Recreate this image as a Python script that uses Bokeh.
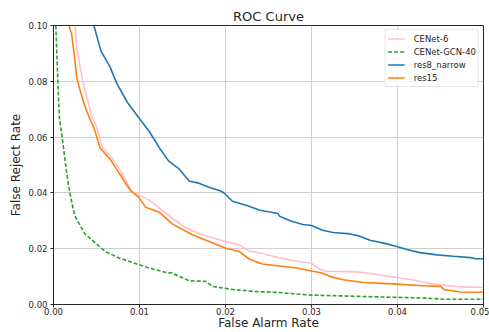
from bokeh.plotting import figure
from bokeh.models import Range1d, FixedTicker, NumeralTickFormatter, Legend, LegendItem
from bokeh.embed import file_html
from bokeh.resources import INLINE

# ---- data (FAR on x, FRR on y) ----
cenet6_x = [0.0025, 0.0027, 0.0031, 0.0035, 0.0039, 0.0045, 0.0049, 0.0057, 0.0068, 0.0078,
            0.0091, 0.0111, 0.0123, 0.0138, 0.0154, 0.0173, 0.0201, 0.0216, 0.0228, 0.0243,
            0.0263, 0.0283, 0.0300, 0.0309, 0.0317, 0.0353, 0.0368, 0.0399, 0.0418, 0.0442,
            0.0473, 0.0500]
cenet6_y = [0.100, 0.0922, 0.085, 0.079, 0.0742, 0.067, 0.0646, 0.0562, 0.0526, 0.0478,
            0.0406, 0.0375, 0.0345, 0.0310, 0.0274, 0.0250, 0.0225, 0.0213, 0.0192, 0.0183,
            0.0167, 0.0155, 0.0148, 0.0127, 0.0119, 0.0117, 0.0111, 0.0097, 0.0088, 0.0073,
            0.0063, 0.0061]

gcn40_x = [0.00027, 0.00039, 0.0005, 0.0007, 0.00097, 0.0014, 0.0018, 0.0023, 0.0026, 0.0037,
           0.0049, 0.0060, 0.0076, 0.0099, 0.0111, 0.0131, 0.0138, 0.0146, 0.0158, 0.0177,
           0.0185, 0.0208, 0.0232, 0.0263, 0.0297, 0.0333, 0.0380, 0.0434, 0.0453, 0.0500]
gcn40_y = [0.100, 0.0898, 0.0802, 0.0664, 0.061, 0.0502, 0.0418, 0.034, 0.031, 0.0251,
           0.022, 0.019, 0.0167, 0.0143, 0.0131, 0.0115, 0.0113, 0.0101, 0.0085, 0.0083,
           0.0065, 0.0054, 0.0047, 0.0043, 0.0034, 0.0031, 0.0027, 0.0023, 0.0019, 0.0019]

res8_x = [0.0047, 0.0055, 0.0066, 0.0074, 0.0086, 0.0099, 0.0111, 0.0123, 0.0134, 0.0146,
          0.0158, 0.0169, 0.0181, 0.0195, 0.0199, 0.0208, 0.0224, 0.0240, 0.0261, 0.0263,
          0.0275, 0.0290, 0.0300, 0.0313, 0.0325, 0.0345, 0.0356, 0.0368, 0.0384, 0.0399,
          0.0411, 0.0426, 0.0446, 0.0465, 0.0485, 0.0491, 0.0500]
res8_y = [0.100, 0.091, 0.085, 0.079, 0.0724, 0.0670, 0.0622, 0.0562, 0.0514, 0.0486,
          0.0442, 0.0435, 0.0420, 0.0406, 0.0398, 0.0370, 0.0356, 0.0338, 0.0326, 0.0316,
          0.0300, 0.0287, 0.0283, 0.0266, 0.0258, 0.0253, 0.0245, 0.0230, 0.0220, 0.0208,
          0.0197, 0.0186, 0.0178, 0.0173, 0.0168, 0.0164, 0.0164]

res15_x = [0.0018, 0.0021, 0.0024, 0.0027, 0.0031, 0.0037, 0.0043, 0.0047, 0.0054, 0.0066,
           0.0076, 0.0090, 0.0099, 0.0107, 0.0123, 0.0138, 0.0162, 0.0181, 0.0201, 0.0216,
           0.0228, 0.0243, 0.0263, 0.0283, 0.0300, 0.0312, 0.0322, 0.0337, 0.0360, 0.0395,
           0.0430, 0.0450, 0.0454, 0.0473, 0.0500]
res15_y = [0.100, 0.097, 0.0898, 0.0814, 0.0766, 0.0706, 0.0660, 0.0634, 0.0562, 0.0520,
           0.0472, 0.0406, 0.0385, 0.0349, 0.0331, 0.0289, 0.0249, 0.0226, 0.0201, 0.0190,
           0.0162, 0.0145, 0.0138, 0.0131, 0.0120, 0.0113, 0.0100, 0.0089, 0.0079, 0.0074,
           0.0067, 0.0065, 0.0054, 0.0045, 0.0044]

x_ticks = [0.0, 0.01, 0.02, 0.03, 0.04, 0.05]
y_ticks = [0.0, 0.02, 0.04, 0.06, 0.08, 0.10]

FONT = "DejaVu Sans"

p = figure(width=489, height=332, output_backend="svg", toolbar_location=None,
           x_range=Range1d(0, 0.05), y_range=Range1d(0, 0.10),
           min_border_left=53, min_border_right=6, min_border_top=25, min_border_bottom=22,
           title="ROC Curve")
p.title.align = "center"
p.title.text_font = FONT
p.title.text_font_size = "13px"
p.title.text_font_style = "normal"
p.title.text_color = "#262626"
p.title.standoff = 4
p.title.offset = 0

p.outline_line_color = "#262626"
p.outline_line_width = 1
p.background_fill_color = "white"
p.border_fill_color = "white"

for ax in (p.xaxis[0], p.yaxis[0]):
    ax.major_label_text_font = FONT
    ax.major_label_text_font_size = "8.5px"
    ax.major_label_text_color = "#262626"
    ax.axis_label_text_font = FONT
    ax.axis_label_text_font_size = "12px"
    ax.axis_label_text_font_style = "normal"
    ax.axis_label_text_color = "#262626"
    ax.axis_line_color = "#262626"
    ax.major_tick_line_color = "#262626"
    ax.major_tick_out = 3
    ax.major_tick_in = 0
    ax.minor_tick_line_color = None
    ax.formatter = NumeralTickFormatter(format="0.00")

p.xaxis[0].major_label_standoff = 0
p.xaxis[0].axis_label_standoff = -2
p.yaxis[0].major_label_standoff = 3
p.yaxis[0].axis_label_standoff = 3

p.xaxis[0].ticker = FixedTicker(ticks=x_ticks)
p.yaxis[0].ticker = FixedTicker(ticks=y_ticks)
p.xaxis.axis_label = "False Alarm Rate"
p.yaxis.axis_label = "False Reject Rate"

p.xgrid.ticker = FixedTicker(ticks=x_ticks)
p.ygrid.ticker = FixedTicker(ticks=y_ticks)
p.grid.grid_line_color = "#cfcfcf"
p.grid.grid_line_width = 1

r1 = p.line(cenet6_x, cenet6_y, line_color="pink", line_width=1.6)
r2 = p.line(gcn40_x, gcn40_y, line_color="#2ca02c", line_width=1.6, line_dash="4 2")
r3 = p.line(res8_x, res8_y, line_color="#1f77b4", line_width=1.6)
r4 = p.line(res15_x, res15_y, line_color="#ff7f0e", line_width=1.6)

legend = Legend(items=[
    LegendItem(label="CENet-6", renderers=[r1]),
    LegendItem(label="CENet-GCN-40", renderers=[r2]),
    LegendItem(label="res8_narrow", renderers=[r3]),
    LegendItem(label="res15", renderers=[r4]),
], location="top_right")
legend.label_text_font = FONT
legend.label_text_font_size = "8.5px"
legend.label_text_color = "#262626"
legend.glyph_width = 17
legend.glyph_height = 13
legend.label_height = 13
legend.spacing = 0
legend.padding = 2
legend.margin = 4
legend.label_standoff = 9
legend.border_line_color = "#cccccc"
legend.background_fill_alpha = 0.85
p.add_layout(legend)

open("out.html", "w").write(file_html(p, INLINE))
